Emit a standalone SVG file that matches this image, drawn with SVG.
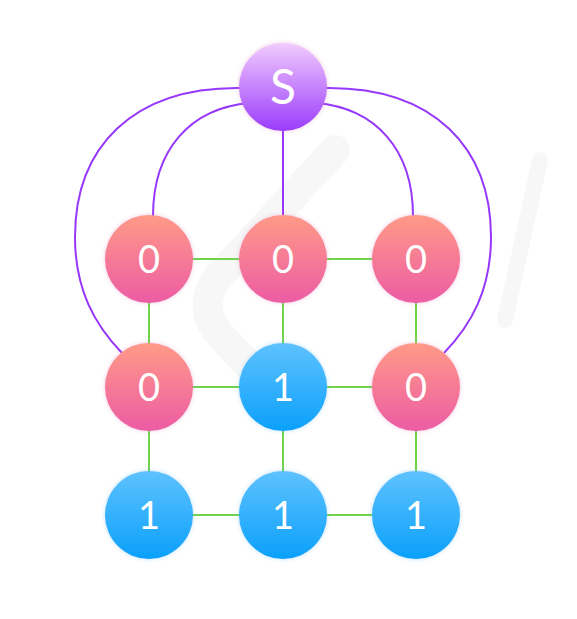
<svg xmlns="http://www.w3.org/2000/svg" width="577" height="619" viewBox="0 0 577 619">
<defs>
<linearGradient id="gr" x1="0" y1="0" x2="0" y2="1"><stop offset="0" stop-color="#ff9a88"/><stop offset="1" stop-color="#ec5ca3"/></linearGradient>
<linearGradient id="gb" x1="0" y1="0" x2="0" y2="1"><stop offset="0" stop-color="#5ec2fe"/><stop offset="1" stop-color="#0ba0fb"/></linearGradient>
<linearGradient id="gp" x1="0" y1="0" x2="0" y2="1"><stop offset="0" stop-color="#f2cbfe"/><stop offset="1" stop-color="#9a3cfb"/></linearGradient>
<filter id="glow" x="-20%" y="-20%" width="140%" height="140%"><feDropShadow dx="0" dy="0" stdDeviation="2" flood-color="#e080c0" flood-opacity="0.45"/></filter>
<filter id="glowb" x="-20%" y="-20%" width="140%" height="140%"><feDropShadow dx="0" dy="0" stdDeviation="2" flood-color="#60b8f0" flood-opacity="0.45"/></filter>
</defs>
<style>
.g{stroke:#6fd34c;stroke-width:2;fill:none}
.p{stroke:#9637fb;stroke-width:2;fill:none}
.t{font-family:Lato,"Open Sans","Liberation Sans",sans-serif;font-weight:400;fill:#ffffff;text-anchor:middle}
.d{font-size:38px}
.s{font-size:48px}
</style>
<g id="watermark" fill="none" stroke="#f7f7f7" stroke-linecap="round" stroke-linejoin="round">
<path d="M 335,150 L 220,275 Q 195,305 220,335 L 290,410" stroke-width="30"/>
<path d="M 540,160 L 505,320" stroke-width="16"/>
</g>
<g id="connectors">
<line class="g" x1="149" y1="259" x2="283" y2="259"/>
<line class="g" x1="283" y1="259" x2="416" y2="259"/>
<line class="g" x1="149" y1="387" x2="283" y2="387"/>
<line class="g" x1="283" y1="387" x2="416" y2="387"/>
<line class="g" x1="149" y1="515" x2="283" y2="515"/>
<line class="g" x1="283" y1="515" x2="416" y2="515"/>
<line class="g" x1="149" y1="259" x2="149" y2="515"/>
<line class="g" x1="283" y1="259" x2="283" y2="515"/>
<line class="g" x1="416" y1="259" x2="416" y2="515"/>
<line class="p" x1="283" y1="120" x2="283" y2="220"/>
<path class="p" d="M 250,103 C 190,108 153,150 153,216"/>
<path class="p" d="M 316,103 C 376,108 413,150 413,216"/>
<path class="p" d="M 245,88 C 130,85 75,150 75,237 C 75,290 95,325 122,353"/>
<path class="p" d="M 321,88 C 436,85 491,150 491,237 C 491,290 471,325 444,353"/>
</g>
<g id="S"><circle cx="283" cy="87" r="44" fill="url(#gp)" filter="url(#glow)"/><text class="t s" x="283" y="104">S</text></g>
<g id="n00"><circle cx="149" cy="259" r="44" fill="url(#gr)" filter="url(#glow)"/><text class="t d" x="149" y="273">0</text></g>
<g id="n01"><circle cx="283" cy="259" r="44" fill="url(#gr)" filter="url(#glow)"/><text class="t d" x="283" y="273">0</text></g>
<g id="n02"><circle cx="416" cy="259" r="44" fill="url(#gr)" filter="url(#glow)"/><text class="t d" x="416" y="273">0</text></g>
<g id="n10"><circle cx="149" cy="387" r="44" fill="url(#gr)" filter="url(#glow)"/><text class="t d" x="149" y="401">0</text></g>
<g id="n11"><circle cx="283" cy="387" r="44" fill="url(#gb)" filter="url(#glowb)"/><text class="t d" x="283" y="401">1</text></g>
<g id="n12"><circle cx="416" cy="387" r="44" fill="url(#gr)" filter="url(#glow)"/><text class="t d" x="416" y="401">0</text></g>
<g id="n20"><circle cx="149" cy="515" r="44" fill="url(#gb)" filter="url(#glowb)"/><text class="t d" x="149" y="529">1</text></g>
<g id="n21"><circle cx="283" cy="515" r="44" fill="url(#gb)" filter="url(#glowb)"/><text class="t d" x="283" y="529">1</text></g>
<g id="n22"><circle cx="416" cy="515" r="44" fill="url(#gb)" filter="url(#glowb)"/><text class="t d" x="416" y="529">1</text></g>
</svg>
